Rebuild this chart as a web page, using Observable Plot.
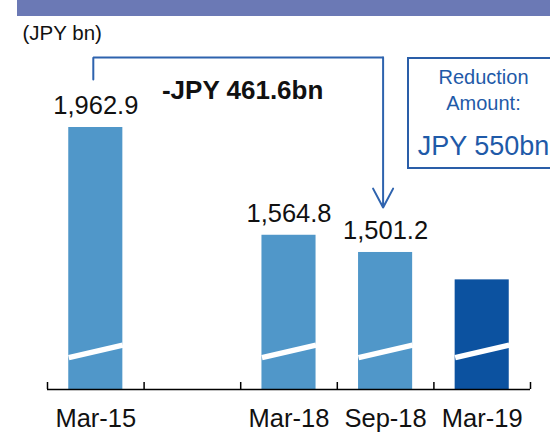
<!DOCTYPE html>
<html>
<head>
<meta charset="utf-8">
<script src="https://cdn.jsdelivr.net/npm/d3@7"></script>
<script src="https://cdn.jsdelivr.net/npm/@observablehq/plot@0.6"></script>
<style>
  html, body { margin: 0; padding: 0; background: #fff; overflow: hidden; }
  #wrap { position: relative; width: 550px; height: 432px; overflow: hidden;
          font-family: "Liberation Sans", Arial, sans-serif; }
  #chart { position: absolute; left: 0; top: 0; }
  .header { position: absolute; left: 17px; top: 0; width: 533px; height: 16px; background: #6b79b5; }
  .box { position: absolute; left: 407px; top: 57px; width: 153px; height: 112px;
         box-sizing: border-box; border: 2px solid #2a5ea8; color: #1f5aa8;
         text-align: center; padding-top: 5px; }
  .box .l1 { font-size: 20px; line-height: 26px; }
  .box .l3 { font-size: 27px; line-height: 34px; margin-top: 12.6px; }
</style>
</head>
<body>
<div id="wrap">
  <div id="chart"></div>
  <div class="header"></div>
  <div class="box">
    <div class="l1">Reduction</div>
    <div class="l1">Amount:</div>
    <div class="l3">JPY 550bn</div>
  </div>
</div>
<script>
// ---- data ----
const categories = ["Mar-15", "", "Mar-18", "Sep-18", "Mar-19"];
const values = [1962.9, null, 1564.8, 1501.2, 1400];
const valueLabels = ["1,962.9", "", "1,564.8", "1,501.2", ""];
const barColors = ["#5097c9", null, "#5097c9", "#5097c9", "#0c52a0"];
const tickBounds = [-0.5, 0.5, 1.5, 2.5, 3.5, 4.5];
const unitLabel = ["(JPY bn)"];
const changeLabel = ["-JPY 461.6bn"];

// broken-axis baseline and slash levels (value units)
const BASE = 995;
const BREAK_LO = 1113;
const BREAK_HI = 1159;
const HALF = 0.28;

// bracket arrow path (from Mar-15 to Sep-18)
const bracket = [
  {x: 0, y: 2140},
  {x: 0, y: 2221.5},
  {x: 3, y: 2221.5}
];
const arrowSeg = [{x1: 3, y1: 2221.5, x2: 3, y2: 1667.4}];
const changeText = [{x: 1.52, y: 2070, t: changeLabel[0]}];

const bars = categories
  .map((c, i) => ({i, c, v: values[i], label: valueLabels[i], color: barColors[i]}))
  .filter(d => d.v != null);

const blue = "#2e63ae";

const chart = Plot.plot({
  width: 550,
  height: 432,
  marginTop: 40,
  marginBottom: 43,
  marginLeft: 47,
  marginRight: 20,
  style: {fontFamily: "'Liberation Sans', Arial, sans-serif", background: "transparent", color: "#000"},
  x: {type: "linear", domain: [-0.5, 4.5]},
  y: {domain: [BASE, 2284.3], axis: null},
  color: {type: "identity"},
  marks: [
    Plot.rectY(bars, {x1: d => d.i - HALF, x2: d => d.i + HALF, y1: BASE, y2: "v", fill: "color"}),
    Plot.link(bars, {x1: d => d.i - HALF, x2: d => d.i + HALF, y1: BREAK_LO, y2: BREAK_HI,
                     stroke: "white", strokeWidth: 5.5, strokeLinecap: "butt"}),
    Plot.text(bars.filter(d => d.label), {x: "i", y: "v", text: "label", dy: -13,
                     lineAnchor: "bottom", fontSize: 25.5, fill: "#111"}),
    Plot.ruleY([BASE], {stroke: "#000", strokeWidth: 1.5}),
    Plot.axisX({ticks: tickBounds, tickSize: -7, tickFormat: () => "", strokeWidth: 1.5, label: null}),
    Plot.axisX({ticks: [0, 2, 3, 4], tickFormat: i => categories[i], tickSize: 0, tickPadding: 19,
                fontSize: 25.5, fill: "#111", label: null}),
    Plot.line(bracket, {x: "x", y: "y", stroke: blue, strokeWidth: 2, dx: -2.5, strokeLinejoin: "miter"}),
    Plot.arrow(arrowSeg, {x1: "x1", y1: "y1", x2: "x2", y2: "y2", stroke: blue, strokeWidth: 2,
                          dx: -2.5, headLength: 16, headAngle: 56}),
    Plot.text(changeText, {x: "x", y: "y", text: "t", fontWeight: "bold", fontSize: 26,
                           lineAnchor: "bottom", fill: "#111"}),
    Plot.text(unitLabel, {frameAnchor: "top-left", text: d => d, dx: -25, dy: -1,
                          textAnchor: "start", lineAnchor: "bottom", fontSize: 20.5, fill: "#111"})
  ]
});
document.getElementById("chart").appendChild(chart);
</script>
</body>
</html>
